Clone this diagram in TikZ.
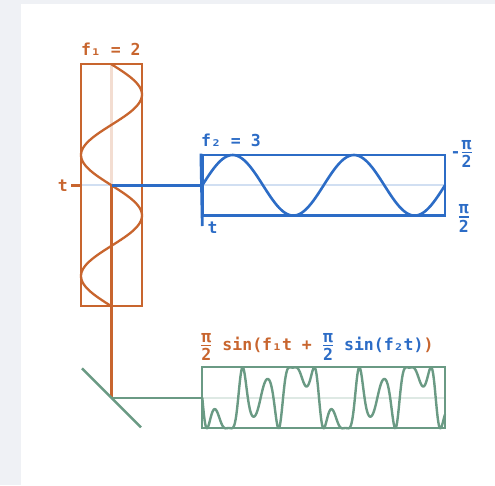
\documentclass[tikz,border=0pt]{standalone}
\usepackage{amsmath}
\usepackage{fontspec}
\setmonofont{DejaVu Sans Mono}
\usepackage{xcolor}
\usepackage{tikz}
\usetikzlibrary{positioning, backgrounds}
\definecolor{carrierorange}{HTML}{C8652E}
\definecolor{modblue}{HTML}{2C6CC6}
\definecolor{outgreen}{HTML}{6A9A84}
\definecolor{pagegray}{HTML}{EFF1F5}
\newcommand{\halfpi}{\genfrac{}{}{1.3pt}{1}{\mbox{π}\rule[-1.2pt]{0pt}{1pt}}{\mbox{2}\rule{0pt}{13pt}}}

\begin{document}
\begin{tikzpicture}[
    x=1pt, y=-1pt,
    ebox/.style={
        rectangle, draw=#1, line width=2.3pt, inner sep=0pt,
    },
    faint/.style={draw=#1!22, line width=2.2pt},
    link/.style={draw=#1, line width=2.4pt},
    wave/.style={draw=#1, line width=2.3pt, line join=round},
    lbl/.style={
        inner sep=0pt, text=#1,
        font=\ttfamily\bfseries\fontsize{16.5}{19}\selectfont,
    },
]
% Key points
\coordinate (tap) at (111.5,185.3);
\coordinate (mirror) at (111.5,397.8);
\coordinate (otick) at (71,185.3);
\coordinate (tend) at (202.3,226);
\coordinate (mirrortop) at (82,368.3);
\coordinate (mirrorbot) at (141,427.3);

% Boxes
\node[ebox=carrierorange, minimum width=61pt, minimum height=242pt] (f1box) at (111.5,185.3) {};
\node[ebox=modblue, line width=2.8pt, minimum width=242.7pt, minimum height=60.5pt] (f2box) at (323.65,185.3) {};
\node[ebox=outgreen, minimum width=242.7pt, minimum height=61pt] (f3box) at (323.65,397.8) {};

% Page and guide lines
\begin{pgfonlayer}{background}
\fill[pagegray] (0,0) rectangle (495,485);
\fill[white] (21,4) rectangle (495,485);
\draw[faint=carrierorange] (f1box.north) -- (tap);
\draw[faint=modblue] (f1box.west) -- (f2box.east);
\draw[faint=outgreen] (f3box.west) -- (f3box.east);
\end{pgfonlayer}

% Waves
\draw[wave=carrierorange, domain=64.3:306.3, samples=121]
    plot ({111.5+30.5*sin((\x-64.3)/121*360)}, \x);
\draw[wave=modblue, line width=2.6pt, domain=202.3:445, samples=121]
    plot (\x, {185.3-30.3*sin((\x-202.3)/121.35*360)});
\draw[wave=outgreen, line width=2.4pt, domain=202.3:445, samples=500]
    plot (\x, {397.8+30.5*sin((\x-202.3)/116.7*720 + 90*sin((\x-202.3)/116.7*1080))});

% Connectors
\draw[link=carrierorange] (otick) -- (f1box.west);
\draw[link=carrierorange] (tap) -- (mirror);
\draw[link=modblue] (tap) -- (f2box.west);
\draw[modblue, line width=2.8pt] (f2box.north west) -- (tend);
\draw[link=outgreen] (mirror) -- (f3box.west);
\draw[link=outgreen] (mirrortop) -- (mirrorbot);

% Labels
\node[lbl=carrierorange, above=7.3pt of f1box.north west, anchor=base west, xshift=1pt] (f1lbl) {f₁ = 2};
\node[lbl=modblue, above=6.7pt of f2box.north west, anchor=base west] (f2lbl) {f₂ = 3};
\node[lbl=carrierorange, left=3pt of otick] (tlbl1) {t};
\node[lbl=modblue, right=5pt of tend, yshift=-1.5pt] (tlbl2) {t};
\node[lbl=modblue, right=4pt of f2box.north east, yshift=-0.5pt] (minlbl) {$\text{-}\halfpi$};
\node[lbl=modblue, right=11pt of f2box.south east, yshift=-1.5pt] (maxlbl) {$\halfpi$};
\node[lbl=carrierorange, anchor=base west] (formula) at (200,350)
    {$\halfpi$ sin(f₁t + {\color{modblue}$\halfpi$ sin(f₂t)})};
\end{tikzpicture}
\end{document}
